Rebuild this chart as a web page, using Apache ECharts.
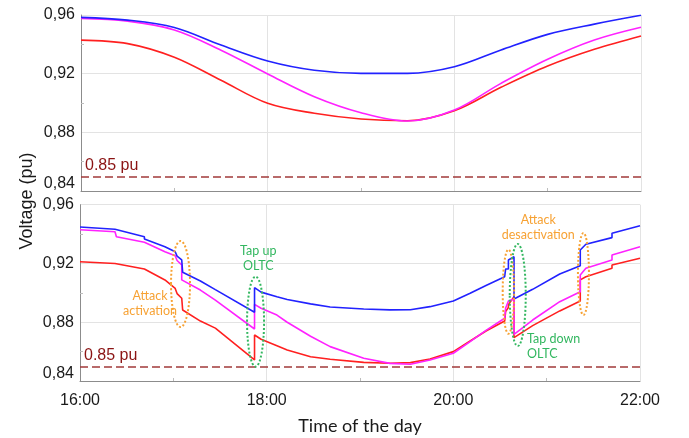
<!DOCTYPE html>
<html>
<head>
<meta charset="utf-8">
<script src="https://cdn.jsdelivr.net/npm/echarts@6/dist/echarts.min.js"></script>
<style>
  html, body { margin: 0; padding: 0; background: #fff; }
  #chart { width: 689px; height: 438px; }
</style>
</head>
<body>
<div id="chart"></div>
<script>
// upper panel, hours of the day
const topTime = [16, 16.5, 17, 17.5, 18, 18.5, 19, 19.5, 20, 20.5, 21, 21.5, 22]
const topBlue = [0.9584, 0.9565, 0.9515, 0.9395, 0.9286, 0.9223, 0.9202, 0.9202, 0.9247, 0.9361, 0.9468, 0.9538, 0.9598]
const topMagenta = [0.9577, 0.9558, 0.9498, 0.9360, 0.9198, 0.9043, 0.8934, 0.8877, 0.8952, 0.9134, 0.9298, 0.9429, 0.9516]
const topRed = [0.9429, 0.9405, 0.9312, 0.9155, 0.8998, 0.8930, 0.8891, 0.8879, 0.8947, 0.9107, 0.9252, 0.9366, 0.9457]

// lower panel (attack + OLTC), repeated times = steps
const lowTime = [16.00, 16.375, 16.39, 16.69, 16.69, 16.91, 17.02, 17.04, 17.09, 17.09, 17.10, 17.29, 17.45, 17.87, 17.87,
  17.94, 18.11, 18.22, 18.47, 18.68, 19.04, 19.32, 19.54, 19.75, 20.00, 20.18, 20.35, 20.55, 20.56, 20.59, 20.59,
  20.65, 20.65, 20.85, 21.14, 21.36, 21.36, 21.42, 21.70, 21.70, 22.00]
const lowBlue = [0.9448, 0.9433, 0.9432, 0.9382, 0.9367, 0.9314, 0.9280, 0.9250, 0.9224, 0.9224, 0.9140, 0.9081, 0.9022, 0.8868, 0.9035,
  0.9005, 0.8974, 0.8955, 0.8925, 0.8904, 0.8890, 0.8884, 0.8885, 0.8906, 0.8945, 0.8997, 0.9050, 0.9110, 0.9162, 0.9162, 0.9224,
  0.9246, 0.8958, 0.9024, 0.9128, 0.9185, 0.9292, 0.9331, 0.9376, 0.9405, 0.9457]
const lowMagenta = [0.9430, 0.9416, 0.9382, 0.9345, 0.9345, 0.9280, 0.9253, 0.9220, 0.9190, 0.9088, 0.9085, 0.9019, 0.8951, 0.8754, 0.8922,
  0.8895, 0.8849, 0.8800, 0.8705, 0.8634, 0.8555, 0.8520, 0.8514, 0.8543, 0.8589, 0.8668, 0.8745, 0.8827, 0.8895, 0.8945, 0.8945,
  0.8958, 0.8718, 0.8815, 0.8940, 0.9008, 0.9122, 0.9167, 0.9224, 0.9258, 0.9314]
const lowRed = [0.9212, 0.9200, 0.9199, 0.9162, 0.9162, 0.9088, 0.9030, 0.8995, 0.8963, 0.8963, 0.8883, 0.8808, 0.8760, 0.8543, 0.8713,
  0.8684, 0.8640, 0.8611, 0.8565, 0.8548, 0.8527, 0.8521, 0.8525, 0.8550, 0.8600, 0.8672, 0.8740, 0.8808, 0.8872, 0.8900, 0.8920,
  0.8974, 0.8695, 0.8777, 0.8877, 0.8945, 0.9088, 0.9110, 0.9167, 0.9190, 0.9235]

const yTicks = [0.84, 0.88, 0.92, 0.96]
const xTicks = [16, 18, 20, 22]
const limitValue = 0.85

// notes on the lower panel: [time, voltage]
const notes = [
  { text: 'Attack\nactivation', at: [16.75, 0.8931], color: '#f7a234', align: 'center' },
  { text: 'Tap up\nOLTC', at: [17.91, 0.9237], color: '#33b760', align: 'center' },
  { text: 'Attack\ndesactivation', at: [20.91, 0.9448], color: '#f7a234', align: 'center' },
  { text: 'Tap down\nOLTC', at: [20.79, 0.8638], color: '#33b760', align: 'left' }
]
const rings = [
  { at: [17.077, 0.9060], rx: 9.5, ry: 43, color: '#f7a234' },
  { at: [17.881, 0.8804], rx: 8.5, ry: 45, color: '#33b760' },
  { at: [20.590, 0.9008], rx: 5.7, ry: 42, color: '#f7a234' },
  { at: [20.690, 0.8985], rx: 8, ry: 51, color: '#33b760' },
  { at: [21.394, 0.9128], rx: 5.5, ry: 41, color: '#f7a234' }
]

const pairs = (t, v) => t.map((x, i) => [x, v[i]])
const FONT = '"Liberation Sans", Arial, sans-serif'

const chart = echarts.init(document.getElementById('chart'))

function yAxis(idx) {
  return {
    type: 'value',
    gridIndex: idx,
    min: yTicks[0],
    max: yTicks[yTicks.length - 1],
    interval: 0.04,
    axisLine: { show: true, lineStyle: { color: '#8c8c8c', width: 1 } },
    axisTick: { show: false, inside: true },
    minorTick: { show: true, splitNumber: 2, length: 3, lineStyle: { color: '#bdbdbd' } },
    splitLine: { show: true, lineStyle: { color: '#e3e3e3', width: 1 } },
    axisLabel: {
      color: '#1a1a1a',
      fontSize: 16,
      fontFamily: FONT,
      margin: 6,
      formatter: v => {
        const s = v.toFixed(2).replace('.', ',')
        return Math.abs(v - yTicks[0]) < 1e-6 ? '{lo|' + s + '}' : s
      },
      rich: { lo: { fontSize: 16, fontFamily: FONT, color: '#1a1a1a', padding: [0, 0, 15, 0] } }
    }
  }
}

function xAxis(idx, withLabels) {
  return {
    type: 'value',
    gridIndex: idx,
    min: xTicks[0],
    max: xTicks[xTicks.length - 1],
    interval: 2,
    axisLine: { show: true, onZero: false, lineStyle: { color: '#8c8c8c', width: 1 } },
    axisTick: { show: false, inside: true },
    minorTick: { show: true, splitNumber: 2, length: 3, lineStyle: { color: '#bdbdbd' } },
    splitLine: { show: true, lineStyle: { color: '#e3e3e3', width: 1 } },
    axisLabel: {
      show: withLabels,
      color: '#1a1a1a',
      fontSize: 16,
      fontFamily: FONT,
      margin: 12,
      formatter: v => v + ':00'
    },
    name: withLabels ? 'Time of the day' : '',
    nameLocation: 'middle',
    nameGap: 36,
    nameTextStyle: { color: '#1a1a1a', fontSize: 18, fontFamily: 'Lato, "Open Sans", sans-serif' }
  }
}

function limitLine() {
  return {
    silent: true,
    symbol: 'none',
    data: [{ yAxis: limitValue }],
    lineStyle: { color: '#a13a3a', type: [8, 4], width: 1.5 },
    label: {
      show: true,
      position: 'insideStartTop',
      formatter: '0.85 pu',
      color: '#8b1414',
      fontSize: 16,
      fontFamily: FONT,
      distance: [4, 3]
    }
  }
}

function line(name, data, color, idx, smooth, extra) {
  return Object.assign({
    name: name,
    type: 'line',
    xAxisIndex: idx,
    yAxisIndex: idx,
    data: data,
    smooth: smooth,
    showSymbol: false,
    symbol: 'none',
    lineStyle: { color: color, width: 1.6 },
    itemStyle: { color: color }
  }, extra || {})
}

chart.setOption({
  animation: false,
  grid: [
    { left: 81, right: 48, top: 15, height: 176, outerBoundsMode: 'none' },
    { left: 80, right: 49, top: 204.7, height: 176.3, outerBoundsMode: 'none' }
  ],
  xAxis: [xAxis(0, false), xAxis(1, true)],
  yAxis: [yAxis(0), yAxis(1)],
  series: [
    line('red', pairs(topTime, topRed), '#ff2020', 0, 0.35, { markLine: limitLine() }),
    line('magenta', pairs(topTime, topMagenta), '#ff22ff', 0, 0.35),
    line('blue', pairs(topTime, topBlue), '#2222ff', 0, 0.35),
    line('red', pairs(lowTime, lowRed), '#ff2020', 1, false, { markLine: limitLine() }),
    line('magenta', pairs(lowTime, lowMagenta), '#ff22ff', 1, false),
    line('blue', pairs(lowTime, lowBlue), '#2222ff', 1, false)
  ]
})

// annotations placed through the lower panel's axes
const toPx = p => chart.convertToPixel({ xAxisIndex: 1, yAxisIndex: 1 }, p)
const graphics = []
rings.forEach(r => {
  const c = toPx(r.at)
  graphics.push({
    type: 'ellipse',
    silent: true,
    z: 100,
    shape: { cx: c[0], cy: c[1], rx: r.rx, ry: r.ry },
    style: { fill: 'none', stroke: r.color, lineWidth: 2, lineDash: [2, 2] }
  })
})
notes.forEach(n => {
  const c = toPx(n.at)
  graphics.push({
    type: 'text',
    silent: true,
    z: 100,
    x: c[0],
    y: c[1],
    style: {
      text: n.text,
      fill: n.color,
      font: '12.5px Lato, "Open Sans", sans-serif',
      lineHeight: 15,
      align: n.align,
      textAlign: n.align,
      verticalAlign: 'middle',
      textVerticalAlign: 'middle'
    }
  })
})
graphics.push({
  type: 'text',
  silent: true,
  x: 27,
  y: 201,
  rotation: Math.PI / 2,
  style: {
    text: 'Voltage (pu)',
    fill: '#1a1a1a',
    font: '18px "Liberation Sans", Arial, sans-serif',
    align: 'center',
    textAlign: 'center',
    verticalAlign: 'middle',
    textVerticalAlign: 'middle'
  }
})
chart.setOption({ graphic: graphics })
</script>
</body>
</html>
